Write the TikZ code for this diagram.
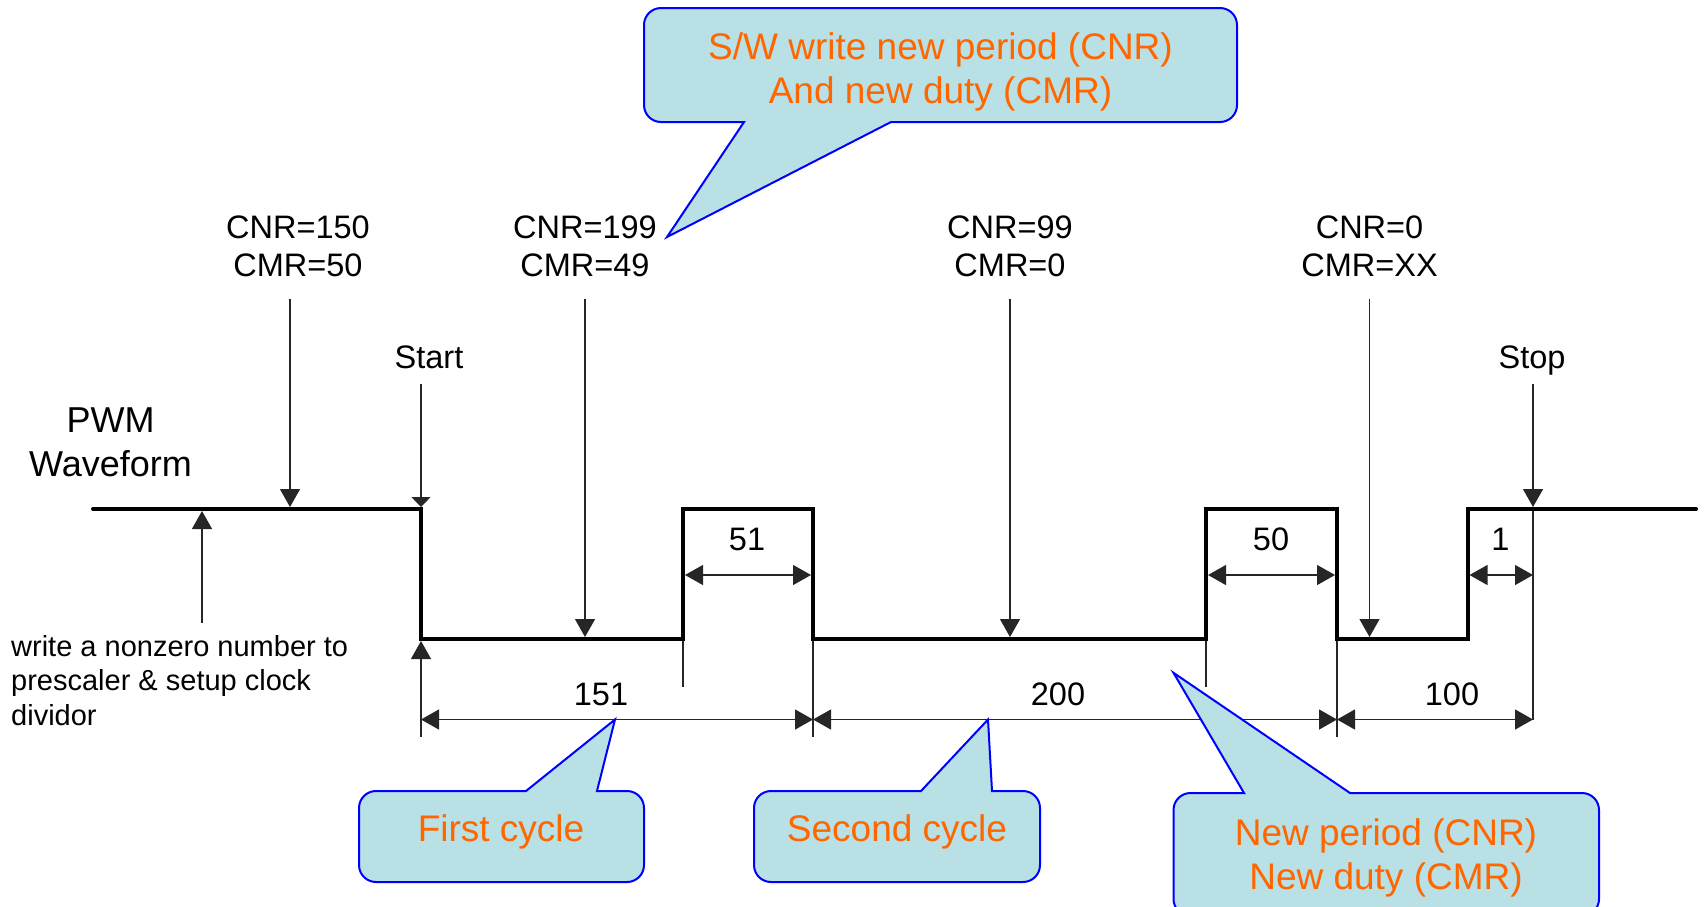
\documentclass[tikz,border=0pt]{standalone}
\usepackage{fontspec}
\setmainfont{Liberation Sans}
\usetikzlibrary{arrows.meta}
\definecolor{callfill}{RGB}{185,224,228}
\definecolor{calltext}{RGB}{255,102,0}
\definecolor{callline}{RGB}{0,0,255}
\tikzset{
  bigtip/.tip={Triangle[length=18pt,width=20pt]},
  smalltip/.tip={Triangle[length=10pt,width=19pt]},
  lbl/.style={font=\fontsize{32.5}{38}\selectfont, align=center, inner sep=0pt},
  otext/.style={font=\fontsize{37}{44}\selectfont, text=calltext, align=center, inner sep=0pt},
  wave/.style={line width=4pt, line join=miter, line cap=round},
  guide/.style={line width=1.3pt, draw=black!85},
  dim/.style={guide, {bigtip}-{bigtip}},
  pointer/.style={guide, -{bigtip}},
  callout/.style={fill=callfill, draw=callline, line width=2pt, line join=miter}
}
\def\CR{17}
% tail on the bottom edge: L T R B, tail base left, tail base right, tip x, tip y
\newcommand{\CallDown}[8]{%
  \filldraw[callout] (#6,#4) -- (#7,#8) -- (#5,#4) -- ({#1+\CR},#4)
    arc[start angle=90,end angle=180,radius=\CR] -- (#1,{#2+\CR})
    arc[start angle=180,end angle=270,radius=\CR] -- ({#3-\CR},#2)
    arc[start angle=270,end angle=360,radius=\CR] -- (#3,{#4-\CR})
    arc[start angle=0,end angle=90,radius=\CR] -- cycle;}
% tail on the top edge
\newcommand{\CallUp}[8]{%
  \filldraw[callout] (#5,#2) -- (#7,#8) -- (#6,#2) -- ({#3-\CR},#2)
    arc[start angle=270,end angle=360,radius=\CR] -- (#3,{#4-\CR})
    arc[start angle=0,end angle=90,radius=\CR] -- ({#1+\CR},#4)
    arc[start angle=90,end angle=180,radius=\CR] -- (#1,{#2+\CR})
    arc[start angle=180,end angle=270,radius=\CR] -- cycle;}
\begin{document}
\begin{tikzpicture}[x=1pt,y=-1pt]
\useasboundingbox (0,0) rectangle (1707,906);
\clip (0,0) rectangle (1707,906);
\fill[white] (0,0) rectangle (1707,906);

% ---------- waveform ----------
\coordinate (w0) at (93,509);
\coordinate (w1) at (421,509);
\coordinate (w2) at (421,639);
\coordinate (w3) at (683,639);
\coordinate (w4) at (683,509);
\coordinate (w5) at (813,509);
\coordinate (w6) at (813,639);
\coordinate (w7) at (1206,639);
\coordinate (w8) at (1206,509);
\coordinate (w9) at (1337,509);
\coordinate (w10) at (1337,639);
\coordinate (w11) at (1467.5,639);
\coordinate (w12) at (1467.5,509);
\coordinate (w13) at (1696,509);
\draw[wave] (w0) -- (w1) -- (w2) -- (w3) -- (w4) -- (w5) -- (w6) -- (w7)
  -- (w8) -- (w9) -- (w10) -- (w11) -- (w12) -- (w13);

% ---------- labels ----------
\node[lbl] (l150) at (298,246) {CNR=150\\CMR=50};
\node[lbl] (l199) at (585,246) {CNR=199\\CMR=49};
\node[lbl] (l99) at (1010,246) {CNR=99\\CMR=0};
\node[lbl] (l0) at (1369.5,246) {CNR=0\\CMR=XX};
\node[lbl] (start) at (429,357.5) {Start};
\node[lbl] (stop) at (1532,361) {Stop};
\node[font=\fontsize{36}{44}\selectfont, align=center, inner sep=0pt] (pwm) at (110.5,442.5) {PWM\\Waveform};
\node[font=\fontsize{29}{34.2}\selectfont, align=left, inner sep=0pt, anchor=north west] (note) at (11,635.5)
  {write a nonzero number to\\prescaler \& setup clock\\dividor};

% ---------- pointer arrows ----------
\coordinate (p1s) at (290,299);    \coordinate (p1e) at (290,507);
\coordinate (p2s) at (585,299);    \coordinate (p2e) at (585,637);
\coordinate (p3s) at (1010,299);   \coordinate (p3e) at (1010,637);
\coordinate (p4s) at (1369.5,299); \coordinate (p4e) at (1369.5,637);
\coordinate (sts) at (421,384);    \coordinate (ste) at (421,507);
\coordinate (sps) at (1533,384);   \coordinate (spe) at (1533,507);
\coordinate (ups) at (202,623);    \coordinate (upe) at (202,511);
\coordinate (s2s) at (421,737);    \coordinate (s2e) at (421,641);
\draw[pointer] (p1s) -- (p1e);
\draw[pointer] (p2s) -- (p2e);
\draw[pointer] (p3s) -- (p3e);
\draw[pointer] (p4s) -- (p4e);
\draw[guide, -{smalltip}] (sts) -- (ste);
\draw[pointer] (sps) -- (spe);
\draw[pointer] (ups) -- (upe);
\draw[pointer] (s2s) -- (s2e);

% ---------- extension lines ----------
\coordinate (e1a) at (683,641);  \coordinate (e1b) at (683,687);
\coordinate (e2a) at (813,641);  \coordinate (e2b) at (813,737);
\coordinate (e3a) at (1206,641); \coordinate (e3b) at (1206,687);
\coordinate (e4a) at (1337,641); \coordinate (e4b) at (1337,737);
\coordinate (e5a) at (1533,511); \coordinate (e5b) at (1533,719.5);
\draw[guide] (e1a) -- (e1b);
\draw[guide] (e2a) -- (e2b);
\draw[guide] (e3a) -- (e3b);
\draw[guide] (e4a) -- (e4b);
\draw[guide] (e5a) -- (e5b);

% ---------- dimensions ----------
\coordinate (d51a) at (685,575);    \coordinate (d51b) at (811,575);
\coordinate (d50a) at (1208,575);   \coordinate (d50b) at (1335,575);
\coordinate (d1a) at (1469.5,575);  \coordinate (d1b) at (1533,575);
\coordinate (d151a) at (421,719.5); \coordinate (d151b) at (813,719.5);
\coordinate (d200a) at (813,719.5); \coordinate (d200b) at (1337,719.5);
\coordinate (d100a) at (1337,719.5);\coordinate (d100b) at (1533,719.5);
\draw[dim] (d51a) -- (d51b);
\draw[dim] (d50a) -- (d50b);
\draw[dim] (d1a) -- (d1b);
\draw[dim] (d151a) -- (d151b);
\draw[dim] (d200a) -- (d200b);
\draw[dim] (d100a) -- (d100b);
\node[lbl] (n51) at (747,539.5) {51};
\node[lbl] (n50) at (1271,539.5) {50};
\node[lbl] (n1) at (1500.5,539.5) {1};
\node[lbl] (n151) at (601,694.5) {151};
\node[lbl] (n200) at (1058,694.5) {200};
\node[lbl] (n100) at (1452,694.5) {100};

% ---------- callouts ----------
\CallDown{644}{8}{1237}{122}{744}{891}{667}{237}
\node[otext] (c0) at (940.5,72) {S/W write new period (CNR)\\And new duty (CMR)};
\CallUp{359}{791}{644}{882}{526}{597}{615}{719.5}
\node[otext] (c1) at (501,832) {First cycle};
\CallUp{754}{791}{1040}{882}{921}{992}{988}{719.5}
\node[otext] (c2) at (897,832) {Second cycle};
\CallUp{1173.5}{793}{1599}{916}{1244}{1350}{1173.5}{672.8}
\node[otext] (c3) at (1386,858) {New period (CNR)\\New duty (CMR)};
\end{tikzpicture}
\end{document}
